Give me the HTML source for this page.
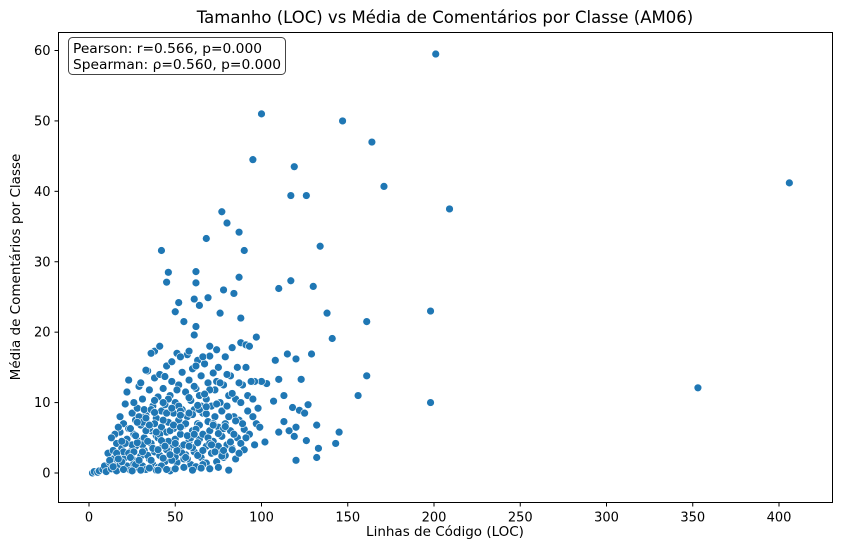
<!DOCTYPE html>
<html><head><meta charset="utf-8"><style>
body{margin:0;background:#fff;font-family:"DejaVu Sans","Liberation Sans",sans-serif;}
svg text{font-family:"DejaVu Sans","Liberation Sans",sans-serif;fill:#000}
</style></head><body>
<svg id="chart" width="842" height="548" xmlns="http://www.w3.org/2000/svg">
<rect width="842" height="548" fill="#fff"/>
<text x="445" y="23" font-size="16.5" text-anchor="middle">Tamanho (LOC) vs Média de Comentários por Classe (AM06)</text>
<g id="marks"></g>
<rect x="58.5" y="32.5" width="774" height="470" fill="none" stroke="#000" stroke-width="1"/>
<g id="xt"></g>
<g id="yt"></g>
<text x="445" y="536" font-size="13.5" text-anchor="middle">Linhas de Código (LOC)</text>
<text transform="translate(20,267) rotate(-90)" font-size="13.5" text-anchor="middle">Média de Comentários por Classe</text>
<g>
<rect x="68.5" y="37.5" width="217" height="37" rx="4" fill="#fff" stroke="#444" stroke-width="1"/>
<text x="73" y="53" font-size="13" textLength="189" lengthAdjust="spacingAndGlyphs">Pearson: r=0.566, p=0.000</text>
<text x="73" y="69" font-size="13" textLength="208" lengthAdjust="spacingAndGlyphs">Spearman: ρ=0.560, p=0.000</text>
</g>
</svg>
<script>
const xTicks=[0,50,100,150,200,250,300,350,400];
const yTicks=[0,10,20,30,40,50,60];
const locValues=[201,100,147,164,119,95,171,406,117,126,209,77,80,87,68,134,42,90,69,46,62,87,45,62,117,110,130,78,84,61,52,64,50,198,138,76,88,55,161,62,61,97,141,88,91,93,83,38,36,41,70,129,115,120,108,353,198,161,156,145,143,132,133,132,120,81,127,123,110,103,100,96,107,113,118,122,125,113,116,120,126,119,110,102,
2,3,5,6,8,9,10,11,12,13,14,14,15,16,16,17,18,18,19,20,20,21,21,22,22,23,23,24,24,25,25,26,26,27,27,28,28,29,29,30,30,31,31,32,32,33,33,34,34,35,35,36,36,37,37,38,38,39,39,40,40,41,41,42,42,43,43,44,44,45,45,46,46,47,47,48,48,49,49,50,50,51,51,52,52,53,53,54,54,55,55,56,56,57,57,58,58,59,59,60,60,61,61,62,62,63,63,64,64,65,65,66,66,67,67,68,68,69,69,70,70,71,71,72,72,73,73,74,74,75,75,76,76,77,77,78,78,79,79,80,80,81,82,82,83,84,85,86,86,87,88,88,89,90,90,91,92,93,94,95,96,97,98,99,
15,18,20,22,25,27,30,32,35,37,40,42,45,47,50,52,55,57,60,63,65,68,70,72,75,78,80,83,85,87,33,38,44,48,53,58,62,66,74,26,29,31,34,36,39,43,46,49,51,54,56,59,61,64,67,69,73,76,79,81,84,89,92,95,
12,14,16,17,19,21,23,24,26,28,29,31,33,34,36,38,40,41,43,45,46,48,49,51,53,55,57,58,60,62,64,66,68,70,72,74,77,79,82,85,
13,17,19,24,27,31,35,39,42,44,47,50,53,56,58,61,63,66,71,75,78,83,87,91,
20,25,30,35,40,45,50,55,60,65,70,75,28,33,38,43,48,53,58,63,68];
const commentValues=[59.5,51,50,47,43.5,44.5,40.7,41.2,39.4,39.4,37.5,37.1,35.5,34.2,33.3,32.2,31.6,31.6,24.9,28.5,28.6,27.8,27.1,27,27.3,26.2,26.5,26,25.5,24.7,24.2,23.8,22.9,23,22.7,22.7,22,21.5,21.5,20.8,19.6,19.3,19.1,18.5,18.2,18,17.8,17.3,17,18,18,16.9,16.9,16.2,16,12.1,10,13.8,11,5.8,4.2,6.8,3.5,2.2,1.8,0.4,9.7,13.3,13.3,12.7,13,13,10.2,11,9.3,8.9,8.5,7.3,6,6.5,4.6,5.2,5.8,4.4,
0,0.2,0.1,0.3,0.5,1,0.2,2.8,1.5,0.6,2,3.2,1,4.2,0.3,2.5,5.8,1.2,3.5,0.5,7,2.2,9.8,4.8,1,6.3,13.2,3,0.4,8.5,2,5.5,1.3,7.5,3.8,0.8,9.2,4.5,12.3,2.4,6.8,1,10.5,5,3.2,8.2,0.5,7,14.5,2,11.8,4.2,6,9.5,1.2,13.5,3,7.8,5.3,10.8,0.8,2.5,14,6.5,8.8,4,12,1.6,9.7,15.2,5.8,3.3,7.2,11,0.3,13,2,6.3,8.5,4.8,10,17,1.5,7.5,12.5,3.5,5.5,9,14.3,0.8,6.8,11.5,2.6,16.8,8,4.5,13.2,1.2,10.3,6,14.8,3,9,12,0.9,16,7,4.8,11,2.2,13.8,8.5,5.5,15.5,1.5,10.5,3.8,12.8,7.3,6,16.6,2.8,9.5,14.2,4.5,11.8,8,1.6,13,6.5,15,3,10,8.8,5.2,12.5,2.2,7,16.5,4,9.5,11,6,13.8,3.5,8,10.5,5,15,7.5,4.2,10,12.5,6.2,3.3,15,8.8,5.5,13,8,4,7,9.2,6.5,
5.5,8,3,11.5,4,1.2,12.8,9,6.3,3.5,5,1,3.3,6,2.3,9.5,4,2,8.3,2.5,9.5,1.4,11.8,7,3.8,6.3,14,11.3,2,12.8,14.6,10.3,13.7,15.8,16.5,17.3,15.2,16.5,17.5,10,8,4,2.5,9,0.4,7.5,10.5,4,11.8,2.8,7,5,12.3,6.8,11.2,5,3,12.8,2.5,8,5.5,7,11,10.5,
1.8,0.9,2.8,6.5,1.6,4.2,2.8,6.3,3,4.3,1.8,3,6,4.5,1.8,7,3.3,5.5,2.1,8.5,4.5,1.8,6.8,3.2,8.8,2,5.3,8.5,3.6,6.2,9,1.2,8.4,4.2,6.8,9.8,2.4,6.6,4.4,7.4,
5,2,4.5,2.2,5.3,7.2,6.8,5.8,4.6,3.8,2.6,4.2,6.5,2.2,3.8,5.5,4.3,3.2,4,5.6,3.2,3.3,2.8,5,
0.5,0.3,0.4,0.7,0.4,0.5,0.6,0.8,0.4,0.7,0.6,0.8,7.2,7.8,8.6,10,9.2,8.2,10.7,9.6,9.4];
const L=58.5,R=832.5,T=32.5,B=502.5;
const xs=v=>89+v*(779-89)/400;
const ys=v=>473-v*(473-50.5)/60;
const NS='http://www.w3.org/2000/svg';
const g=document.getElementById('marks');
for(let i=0;i<locValues.length;i++){
  const c=document.createElementNS(NS,'circle');
  c.setAttribute('cx',xs(locValues[i]));c.setAttribute('cy',ys(commentValues[i]));
  c.setAttribute('r',3.9);c.setAttribute('fill','#1f77b4');c.setAttribute('stroke','#fff');c.setAttribute('stroke-width','0.6');
  
  
  g.appendChild(c);
}
const xt=document.getElementById('xt');
xTicks.forEach(t=>{
  const x=xs(t);
  const l=document.createElementNS(NS,'line');
  l.setAttribute('x1',x);l.setAttribute('x2',x);l.setAttribute('y1',B);l.setAttribute('y2',B+4);l.setAttribute('stroke','#000');
  
  
  xt.appendChild(l);
  const s=document.createElementNS(NS,'text');
  s.setAttribute('x',x);s.setAttribute('y',B+19);s.setAttribute('font-size','13');s.setAttribute('text-anchor','middle');s.textContent=t;
  
  
  xt.appendChild(s);
});
const yt=document.getElementById('yt');
yTicks.forEach(t=>{
  const y=ys(t);
  const l=document.createElementNS(NS,'line');
  l.setAttribute('x1',L-4);l.setAttribute('x2',L);l.setAttribute('y1',y);l.setAttribute('y2',y);l.setAttribute('stroke','#000');
  
  
  yt.appendChild(l);
  const s=document.createElementNS(NS,'text');
  s.setAttribute('x',L-8);s.setAttribute('y',y+4.5);s.setAttribute('font-size','13');s.setAttribute('text-anchor','end');s.textContent=t;
  
  
  yt.appendChild(s);
});
</script>
</body></html>
